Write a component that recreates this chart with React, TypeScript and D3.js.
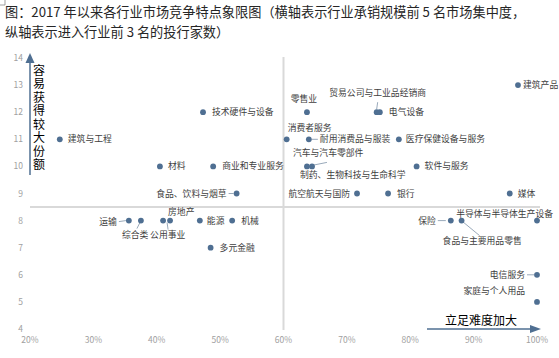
import React from "react";
import * as d3 from "d3";

const industries = [
  "建筑与工程", "材料", "运输", "综合类", "公用事业", "房地产", "能源", "机械", "多元金融",
  "技术硬件与设备", "商业和专业服务", "食品、饮料与烟草", "零售业", "贸易公司与工业品经销商",
  "电气设备", "消费者服务", "耐用消费品与服装", "医疗保健设备与服务", "汽车与汽车零部件",
  "制药、生物科技与生命科学", "软件与服务", "航空航天与国防", "银行", "媒体", "建筑产品",
  "保险", "食品与主要用品零售", "半导体与半导体生产设备", "电信服务", "家庭与个人用品",
];
// concentration of top-5 underwriters (%)
const concentration = [
  24.7, 40.5, 35.6, 37.5, 41.0, 42.1, 46.8, 51.9, 48.5,
  47.3, 48.9, 52.6, 63.7, 74.7,
  75.2, 60.5, 64.0, 78.2, 63.7,
  64.5, 81.0, 71.6, 76.5, 95.7, 97.0,
  86.4, 88.1, 100, 100, 100,
];
// number of banks entering top 3
const bankCount = [
  11, 10, 8, 8, 8, 8, 8, 8, 7,
  12, 10, 9, 12, 12,
  12, 11, 11, 11, 10,
  10, 10, 9, 9, 9, 13,
  8, 8, 8, 6, 5,
];
const xTicks = [20, 30, 40, 50, 60, 70, 80, 90, 100];
const yTicks = [4, 5, 6, 7, 8, 9, 10, 11, 12, 13, 14];
const titleLines = [
  "图：2017 年以来各行业市场竞争特点象限图（横轴表示行业承销规模前 5 名市场集中度，",
  "纵轴表示进入行业前 3 名的投行家数）",
];
const yAxisTitle = "容易获得较大份额";
const xAxisTitle = "立足难度加大";

// label placement (style): [dx, dy, anchor, leader?[x1,y1,x2,y2]]
type Place = [number, number, string, number[] | null];
const placement: Place[] = [
  [8, 3, "start", null],
  [8, 3, "start", null],
  [-12, 4, "end", [-10, 1, -3, 0]],
  [-19, 17, "start", [-1, 2, -4, 8]],
  [-13, 17, "start", [4, 2, 5, 9]],
  [-2, -6, "start", null],
  [7, 3, "start", null],
  [9, 3, "start", null],
  [9, 3, "start", null],
  [9, 3, "start", null],
  [9, 3, "start", null],
  [-10, 3, "end", [-8, 0, -3, 0]],
  [-3, -10, "middle", null],
  [1, -16, "middle", [0, -3, 1, -10]],
  [9, 3, "start", null],
  [1, -8, "start", null],
  [11, 3, "start", [3, 0, 9, 0]],
  [7, 3, "start", null],
  [-14, -10, "start", [5, -1, 20, -4]],
  [-12, 12, "start", null],
  [8, 3, "start", null],
  [-7, 3, "end", null],
  [9, 3, "start", null],
  [8, 3, "start", null],
  [5, 3, "start", null],
  [-15, 3, "end", [-13, 0, -5, 0]],
  [-19, 23, "start", [1, 1, 18, 15]],
  [16, -4, "end", null],
  [-12, 3, "end", [-10, 0, -3, 0]],
  [-12, -8, "end", null],
];

const W = 559;
const H = 358;
const font = "'Noto Sans CJK SC', 'Noto Sans', sans-serif";
const dotColor = "#4f6f92";

export default function App() {
  const x = d3.scaleLinear().domain([20, 100]).range([30, 537]);
  const y = d3.scaleLinear().domain([4, 14]).range([329, 58]);
  const data = industries.map((name, i) => ({
    name,
    cx: x(concentration[i]),
    cy: y(bankCount[i]),
    p: placement[i],
  }));
  return (
    <svg width={W} height={H} style={{ position: "absolute", left: 0, top: 0, background: "#fff" }}>
      <rect width={W} height={H} fill="#fff" />
      <path d="M0,5 H5 V0" fill="none" stroke="#888" strokeWidth={0.8} />
      {titleLines.map((t, i) => (
        <text key={i} x={5} y={17 + i * 20} fontFamily={font} fontSize={13.2} fill="#262626">
          {t}
        </text>
      ))}
      {/* quadrant lines */}
      <line x1={x(60)} x2={x(60)} y1={57} y2={330} stroke="#d9d9d9" strokeWidth={2} />
      <line x1={30} x2={540} y1={y(8.5)} y2={y(8.5)} stroke="#d9d9d9" strokeWidth={2} />
      {/* tick labels */}
      {xTicks.map((t) => (
        <text key={t} x={x(t)} y={343} textAnchor="middle" fontFamily={font} fontSize={8.5} fill="#a0a0a0">
          {t}%
        </text>
      ))}
      {yTicks.map((t) => (
        <text key={t} x={23} y={y(t) + 3} textAnchor="end" fontFamily={font} fontSize={8.5} fill="#a0a0a0">
          {t}
        </text>
      ))}
      {/* y arrow */}
      <line x1={30} x2={30} y1={175} y2={62} stroke="#4f6f92" strokeWidth={1.5} />
      <path d="M30,53 L25.5,63 L34.5,63 Z" fill="#4f6f92" />
      <text
        x={39}
        y={64}
        fontFamily={font}
        fontSize={12}
        fill="#000"
        style={{ writingMode: "vertical-rl", letterSpacing: "1.5px" } as any}
      >
        {yAxisTitle}
      </text>
      {/* x arrow */}
      <line x1={427} x2={531} y1={329} y2={329} stroke="#4f6f92" strokeWidth={1.5} />
      <path d="M541,329 L530,325 L530,333 Z" fill="#4f6f92" />
      <text x={445} y={325} fontFamily={font} fontSize={12} fill="#000">
        {xAxisTitle}
      </text>
      {/* leaders */}
      {data.map((d, i) =>
        d.p[3] ? (
          <line
            key={"l" + i}
            x1={d.cx + d.p[3][0]}
            y1={d.cy + d.p[3][1]}
            x2={d.cx + d.p[3][2]}
            y2={d.cy + d.p[3][3]}
            stroke="#7f93a8"
            strokeWidth={0.8}
          />
        ) : null
      )}
      {/* dots */}
      {data.map((d, i) => (
        <circle key={"c" + i} cx={d.cx} cy={d.cy} r={2.9} fill={dotColor} />
      ))}
      {/* labels */}
      {data.map((d, i) => (
        <text
          key={"t" + i}
          x={d.cx + d.p[0]}
          y={d.cy + d.p[1]}
          textAnchor={d.p[2] as any}
          fontFamily={font}
          fontSize={8.8}
          fill="#404040"
        >
          {d.name}
        </text>
      ))}
    </svg>
  );
}
